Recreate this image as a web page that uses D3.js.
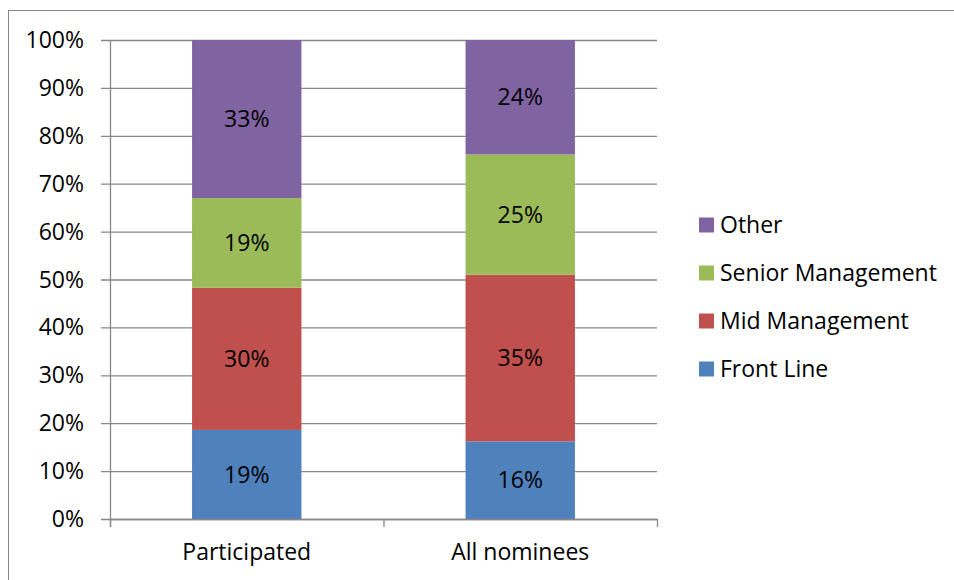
<!DOCTYPE html>
<html><head><meta charset="utf-8">
<script src="https://cdn.jsdelivr.net/npm/d3@7"></script>
<style>body{margin:0;background:#fff}text{font-family:"Open Sans",sans-serif;fill:#000}</style>
</head><body><svg id="c" width="954" height="580"></svg>
<script>
const categories = ["Participated", "All nominees"];
const seriesNames = ["Front Line", "Mid Management", "Senior Management", "Other"];
const frontLine = [18.6, 16.2];
const midManagement = [29.7, 34.8];
const seniorManagement = [18.7, 25.1];
const other = [33.0, 23.9];
const labels = [["19%", "16%"], ["30%", "35%"], ["19%", "25%"], ["33%", "24%"]];
const yTicks = [0,10,20,30,40,50,60,70,80,90,100];
const colors = ["#4F81BD", "#C0504D", "#9BBB59", "#8064A2"];

const series = [frontLine, midManagement, seniorManagement, other];
const svg = d3.select("#c");
svg.append("rect").attr("x",8.5).attr("y",10.5).attr("width",960).attr("height",600)
  .attr("fill","none").attr("stroke","#888");

const FS = 23;
const x0 = 110, x1 = 657, yTop = 40, yBot = 519;
const x = d3.scaleBand().domain(categories).range([x0, x1]).paddingInner(0.6).paddingOuter(0.3);
const y = d3.scaleLinear().domain([0,100]).range([yBot, yTop]);

svg.append("g").selectAll("line").data(yTicks).join("line")
  .attr("x1", 101).attr("x2", x1).attr("y1", d=>y(d)+0.5).attr("y2", d=>y(d)+0.5)
  .attr("stroke","#888").attr("stroke-width",1.3);

svg.append("g").selectAll("text").data(yTicks).join("text")
  .attr("x", 84).attr("y", d=>y(d)).attr("dy","0.35em").attr("text-anchor","end")
  .attr("font-size",FS).text(d=>d+"%");

const stackData = categories.map((c,i)=>{const o={cat:c}; seriesNames.forEach((s,k)=>o[s]=series[k][i]); return o;});
const stack = d3.stack().keys(seriesNames)(stackData);
stack.forEach((layer,k)=>{
  const g = svg.append("g");
  g.selectAll("rect").data(layer).join("rect")
    .attr("x", d=>x(d.data.cat)).attr("width", x.bandwidth())
    .attr("y", d=>y(d[1])).attr("height", d=>y(d[0])-y(d[1]))
    .attr("fill", colors[k]);
  g.selectAll("text").data(layer).join("text")
    .attr("x", d=>x(d.data.cat)+x.bandwidth()/2).attr("y", d=>(y(d[0])+y(d[1]))/2)
    .attr("dy","0.35em").attr("text-anchor","middle").attr("font-size",FS)
    .text((d,i)=>labels[k][i]);
});

svg.append("line").attr("x1",x0+0.5).attr("x2",x0+0.5).attr("y1",yTop).attr("y2",yBot+8).attr("stroke","#888").attr("stroke-width",1.3);
svg.append("line").attr("x1",x0).attr("x2",x1).attr("y1",yBot+0.5).attr("y2",yBot+0.5).attr("stroke","#888").attr("stroke-width",1.3);
const step = (x1-x0)/categories.length;
svg.append("g").selectAll("line").data(d3.range(categories.length+1)).join("line")
  .attr("x1",d=>x0+d*step+0.5).attr("x2",d=>x0+d*step+0.5).attr("y1",yBot).attr("y2",yBot+8)
  .attr("stroke","#888").attr("stroke-width",1.3);
svg.append("g").selectAll("text").data(categories).join("text")
  .attr("x", d=>x(d)+x.bandwidth()/2).attr("y", 552).attr("dy","0.35em")
  .attr("text-anchor","middle").attr("font-size",FS).text(d=>d);

const legendOrder = [3,2,1,0];
const lg = svg.append("g").selectAll("g").data(legendOrder).join("g")
  .attr("transform",(d,i)=>`translate(699,${225+i*48})`);
lg.append("rect").attr("x",0).attr("y",-7.5).attr("width",15).attr("height",15).attr("fill",d=>colors[d]);
lg.append("text").attr("x",21).attr("y",0).attr("dy","0.35em").attr("font-size",FS).text(d=>seriesNames[d]);
</script></body></html>
